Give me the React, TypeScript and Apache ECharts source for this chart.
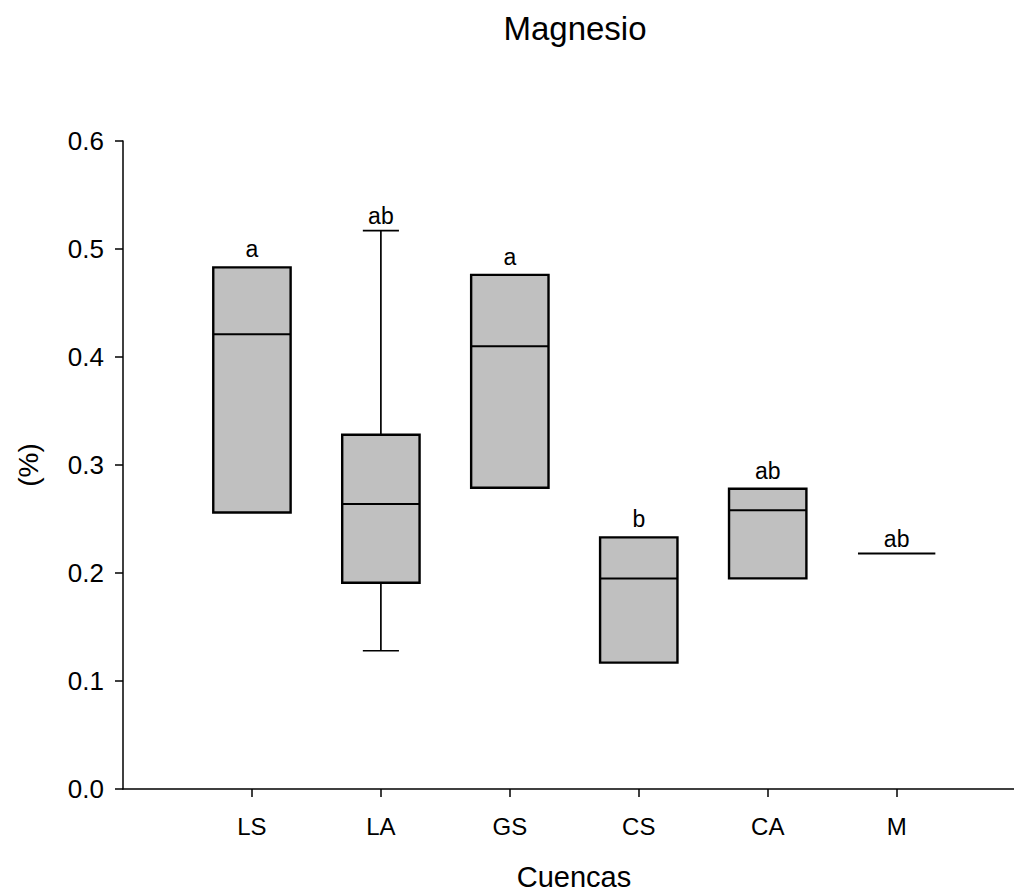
import React, { useEffect, useRef } from "react";
import * as echarts from "echarts";

const categories = ["LS", "LA", "GS", "CS", "CA", "M"];
const whiskerLow = [0.256, 0.128, 0.279, 0.117, 0.195, 0.218];
const q1 = [0.256, 0.191, 0.279, 0.117, 0.195, 0.218];
const median = [0.421, 0.264, 0.41, 0.195, 0.258, 0.218];
const q3 = [0.483, 0.328, 0.476, 0.233, 0.278, 0.218];
const whiskerHigh = [0.483, 0.517, 0.476, 0.233, 0.278, 0.218];
const letters = ["a", "ab", "a", "b", "ab", "ab"];

const FONT = "Arial, 'Liberation Sans', Helvetica, sans-serif";

export default function App() {
  const ref = useRef<HTMLDivElement>(null);
  useEffect(() => {
    document.body.style.margin = "0";
    if (!ref.current) return;
    const chart = echarts.init(ref.current, undefined, { renderer: "svg" });
    const data = categories.map((c, i) => [
      i + 1,
      whiskerLow[i],
      q1[i],
      median[i],
      q3[i],
      whiskerHigh[i],
      i,
    ]);
    const option: any = {
      animation: false,
      backgroundColor: "#ffffff",
      grid: { left: 123, top: 141, right: 0, bottom: 105, containLabel: false },
      xAxis: {
        type: "value",
        min: 0,
        max: 6.91,
        interval: 1,
        splitLine: { show: false },
        axisLine: { show: true, onZero: false, lineStyle: { color: "#000", width: 1.5 } },
        axisTick: {
          show: true,
          length: 8,
          inside: false,
          customValues: [1, 2, 3, 4, 5, 6],
          lineStyle: { color: "#000", width: 1.5 },
        },
        axisLabel: {
          show: true,
          margin: 25,
          customValues: [1, 2, 3, 4, 5, 6],
          color: "#000",
          fontSize: 24,
          fontFamily: FONT,
          formatter: (v: number) => {
            const k = Math.round(v);
            return k >= 1 && k <= categories.length && Math.abs(v - k) < 1e-6 ? categories[k - 1] : "";
          },
        },
      },
      yAxis: {
        type: "value",
        min: 0,
        max: 0.6,
        interval: 0.1,
        splitLine: { show: false },
        axisLine: { show: true, lineStyle: { color: "#000", width: 1.5 } },
        axisTick: { show: true, length: 8, inside: false, lineStyle: { color: "#000", width: 1.5 } },
        axisLabel: {
          margin: 19,
          color: "#000",
          fontSize: 26,
          fontFamily: FONT,
          formatter: (v: number) => v.toFixed(1),
        },
      },
      graphic: [
        {
          type: "text",
          x: 575,
          y: 28,
          style: {
            text: "Magnesio",
            fontSize: 33,
            fontFamily: FONT,
            fill: "#000",
            align: "center",
            verticalAlign: "middle",
          },
        },
        {
          type: "text",
          x: 574,
          y: 877,
          style: {
            text: "Cuencas",
            fontSize: 29,
            fontFamily: FONT,
            fill: "#000",
            align: "center",
            verticalAlign: "middle",
          },
        },
        {
          type: "text",
          x: 28,
          y: 465,
          rotation: Math.PI / 2,
          style: {
            text: "(%)",
            fontSize: 28,
            fontFamily: FONT,
            fill: "#000",
            align: "center",
            verticalAlign: "middle",
          },
        },
      ],
      series: [
        {
          type: "custom",
          data,
          clip: false,
          renderItem: (params: any, api: any) => {
            const x = api.value(0);
            const lo = api.value(1);
            const b1 = api.value(2);
            const md = api.value(3);
            const b3 = api.value(4);
            const hi = api.value(5);
            const idx = api.value(6);
            const unit = api.size([1, 0])[0];
            const half = unit * 0.3;
            const cap = unit * 0.14;
            const [cx, yLo] = api.coord([x, lo]);
            const yQ1 = api.coord([x, b1])[1];
            const yMd = api.coord([x, md])[1];
            const yQ3 = api.coord([x, b3])[1];
            const yHi = api.coord([x, hi])[1];
            const children: any[] = [];
            const wStyle = { stroke: "#000", lineWidth: 1.7 };
            if (hi > b3) {
              children.push({ type: "line", shape: { x1: cx, y1: yQ3, x2: cx, y2: yHi }, style: wStyle });
              children.push({ type: "line", shape: { x1: cx - cap, y1: yHi, x2: cx + cap, y2: yHi }, style: wStyle });
            }
            if (lo < b1) {
              children.push({ type: "line", shape: { x1: cx, y1: yQ1, x2: cx, y2: yLo }, style: wStyle });
              children.push({ type: "line", shape: { x1: cx - cap, y1: yLo, x2: cx + cap, y2: yLo }, style: wStyle });
            }
            let labelY: number;
            if (b3 > b1) {
              children.push({
                type: "rect",
                shape: { x: cx - half, y: yQ3, width: half * 2, height: yQ1 - yQ3 },
                style: { fill: "#c0c0c0", stroke: "#000", lineWidth: 2.4 },
              });
              children.push({
                type: "line",
                shape: { x1: cx - half, y1: yMd, x2: cx + half, y2: yMd },
                style: { stroke: "#000", lineWidth: 2 },
              });
              labelY = hi > b3 ? yHi - 15 : yQ3 - 18;
            } else {
              children.push({
                type: "line",
                shape: { x1: cx - half, y1: yMd, x2: cx + half, y2: yMd },
                style: { stroke: "#000", lineWidth: 2 },
              });
              labelY = yHi - 15;
            }
            children.push({
              type: "text",
              x: cx,
              y: labelY,
              style: {
                text: letters[idx],
                fontSize: 23,
                fontFamily: FONT,
                fill: "#000",
                align: "center",
                verticalAlign: "middle",
              },
            });
            return { type: "group", children };
          },
        },
      ],
    };
    chart.setOption(option);
    return () => chart.dispose();
  }, []);
  return <div ref={ref} style={{ width: 1014, height: 894 }} />;
}
